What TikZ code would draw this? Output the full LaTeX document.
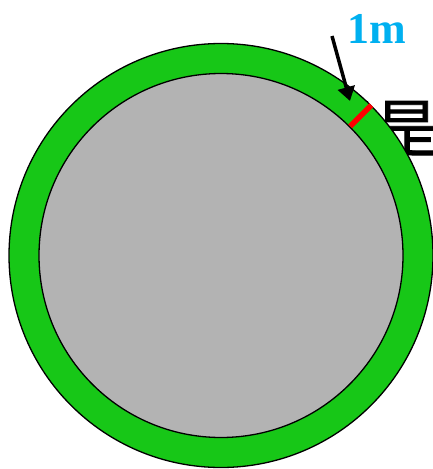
\documentclass[tikz,border=0pt]{standalone}
\usepackage{fontspec}
\newfontfamily\cjk[FakeBold=1.2]{Noto Sans CJK SC}
\newfontfamily\serifb{Liberation Serif}
\usetikzlibrary{arrows.meta}
\definecolor{ringgreen}{HTML}{17C717}
\definecolor{discgray}{HTML}{B3B3B3}
\definecolor{labelblue}{HTML}{00B0F0}
\tikzset{
  ringline/.style={draw=black, line width=1.3pt},
  marker/.style={draw=red, line width=5.5pt},
  pointer/.style={draw=black, line width=3.5pt, -{Triangle[length=14pt,width=17pt]}},
}
\begin{document}
\begin{tikzpicture}[x=1pt,y=-1pt]
\useasboundingbox (0,0) rectangle (433,469);
\begin{scope}
\clip (0,0) rectangle (433,469);
\node[anchor=west, inner sep=0pt, font=\cjk\fontsize{63}{63}\selectfont] (txt) at (312,129) {周是};
\end{scope}
\coordinate (c) at (221,255.5);
\node[circle, ringline, fill=ringgreen, minimum size=424pt, inner sep=0pt] (outer) at (c) {};
\node[circle, ringline, fill=discgray, minimum size=364pt, inner sep=0pt] (inner) at (c) {};
\draw[marker] (inner.45) -- (outer.45);
\node[inner sep=0pt, text=labelblue, font=\serifb\bfseries\fontsize{44}{44}\selectfont] (lbl) at (377,29) {1m};
\coordinate (tail) at (332,36);
\coordinate (tip) at (350,101);
\draw[pointer] (tail) -- (tip);
\end{tikzpicture}
\end{document}
